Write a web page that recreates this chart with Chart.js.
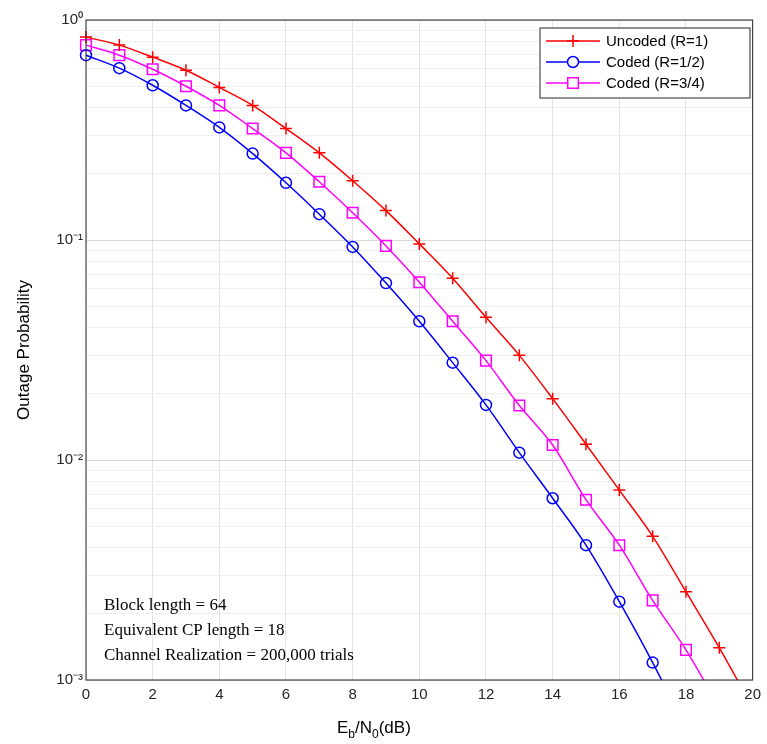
<!DOCTYPE html>
<html><head><meta charset="utf-8">
<script src="https://cdn.jsdelivr.net/npm/chart.js@4"></script>
<style>html,body{margin:0;background:#fff}#wrap{width:767px;height:744px}</style>
</head><body><div id="wrap"><canvas id="c"></canvas></div>
<script>
'use strict';
const snr = [0,1,2,3,4,5,6,7,8,9,10,11,12,13,14,15,16,17,18,19,20];
const uncoded = [0.836,0.769,0.678,0.591,0.494,0.409,0.321,0.249,0.186,0.136,0.096,0.067,0.0445,0.0299,0.019,0.0118,0.0073,0.0045,0.00252,0.0014,0.00075];
const codedHalf = [0.692,0.604,0.505,0.409,0.325,0.247,0.182,0.131,0.093,0.0637,0.0427,0.0277,0.0178,0.0108,0.0067,0.0041,0.00227,0.0012,0.0006];
const codedThreeQ = [0.769,0.692,0.597,0.5,0.409,0.321,0.249,0.184,0.133,0.094,0.0643,0.0427,0.0283,0.0177,0.0117,0.0066,0.0041,0.0023,0.00137,0.00075];
const seriesNames = ['Uncoded (R=1)', 'Coded (R=1/2)', 'Coded (R=3/4)'];
const seriesColors = ['#ff0000', '#0000ff', '#ff00ff'];
const seriesMarkers = ['cross', 'circle', 'rect'];
const markerSizes = [6, 5.5, 7.5];
const notes = ['Block length = 64', 'Equivalent CP length = 18', 'Channel Realization = 200,000 trials'];
const SUP = {'-':'⁻','0':'⁰','1':'¹','2':'²','3':'³'};

const toXY = arr => arr.map((v, i) => ({ x: snr[i], y: v }));
const ds = [uncoded, codedHalf, codedThreeQ].map((d, i) => ({
  label: seriesNames[i], data: toXY(d),
  borderColor: seriesColors[i], backgroundColor: 'transparent',
  pointStyle: seriesMarkers[i], pointRadius: markerSizes[i],
  pointBorderWidth: 1.5, borderWidth: 1.5, tension: 0.4, cubicInterpolationMode: 'monotone',
  clip: { left: 10, top: 10, right: 0, bottom: 0 },
}));

// cadre, légende et texte dessinés à la main
const extras = {
  id: 'extras',
  afterDatasetsDraw(chart) {
    const { ctx, chartArea: a } = chart;
    ctx.save();
    ctx.strokeStyle = '#262626'; ctx.lineWidth = 1;
    ctx.strokeRect(a.left, a.top, a.right - a.left, a.bottom - a.top);
    // légende
    const lx = 540, ly = 28, lw = 210, lh = 70;
    ctx.fillStyle = '#fff'; ctx.fillRect(lx, ly, lw, lh);
    ctx.strokeRect(lx, ly, lw, lh);
    ctx.font = '15px "Liberation Sans", Arial';
    ctx.textBaseline = 'middle';
    seriesNames.forEach((n, i) => {
      const y = ly + 13 + i * 21;
      ctx.strokeStyle = seriesColors[i]; ctx.lineWidth = 1.5;
      ctx.beginPath(); ctx.moveTo(lx + 6, y); ctx.lineTo(lx + 60, y); ctx.stroke();
      ctx.fillStyle = '#fff';
      Chart.helpers.drawPoint(ctx, { pointStyle: seriesMarkers[i], radius: markerSizes[i], rotation: 0, borderWidth: 1.5 }, lx + 33, y);
      ctx.fillStyle = '#000'; ctx.fillText(n, lx + 66, y + 1);
    });
    // annotations
    ctx.font = '17px "Liberation Serif", "Times New Roman"';
    ctx.fillStyle = '#000'; ctx.textBaseline = 'alphabetic';
    notes.forEach((t, i) => ctx.fillText(t, 104, 610 + i * 25));
    // titre axe x avec indices
    let x = 337; const y = 733;
    const part = (t, dy, f) => { ctx.font = f; ctx.fillText(t, x, y + dy); x += ctx.measureText(t).width; };
    part('E', 0, '17px "Liberation Sans"'); part('b', 5, '12px "Liberation Sans"');
    part('/N', 0, '17px "Liberation Sans"'); part('0', 5, '12px "Liberation Sans"');
    part('(dB)', 0, '17px "Liberation Sans"');
    ctx.restore();
  }
};

new Chart(document.getElementById('c'), {
  type: 'line',
  data: { datasets: ds },
  plugins: [extras],
  options: {
    responsive: true, maintainAspectRatio: false, animation: false,
    layout: { padding: { top: 20, right: 12, bottom: 34, left: 10 } },
    plugins: { legend: { display: false }, tooltip: { enabled: false } },
    scales: {
      x: {
        type: 'linear', min: 0, max: 20,
        ticks: { stepSize: 2, color: '#262626', font: { size: 15, family: 'Liberation Sans' }, padding: 6 },
        grid: { color: '#e3e3e3', drawTicks: false },
        border: { display: false },
      },
      y: {
        type: 'logarithmic', min: 0.001, max: 1,
        afterFit: s => { s.width = 76; },
        afterBuildTicks: s => {
          const t = [];
          for (let e = -3; e < 0; e++) for (let m = 1; m < 10; m++) t.push({ value: m * Math.pow(10, e) });
          t.push({ value: 1 });
          s.ticks = t;
        },
        ticks: {
          autoSkip: false, color: '#262626', font: { size: 15, family: 'Liberation Sans' },
          callback: v => {
            const e = Math.round(Math.log10(v));
            if (Math.abs(v - Math.pow(10, e)) > 1e-9) return '';
            return '10' + String(e).split('').map(c => SUP[c]).join('');
          },
        },
        title: { display: true, text: 'Outage Probability', color: '#000', font: { size: 17, family: 'Liberation Sans' } },
        grid: { color: ctx => { const v = ctx.tick.value, e = Math.round(Math.log10(v)); return Math.abs(v - Math.pow(10, e)) < 1e-9 ? '#d9d9d9' : '#eeeeee'; }, drawTicks: false },
        border: { display: false },
      },
    },
  },
});
</script></body></html>
